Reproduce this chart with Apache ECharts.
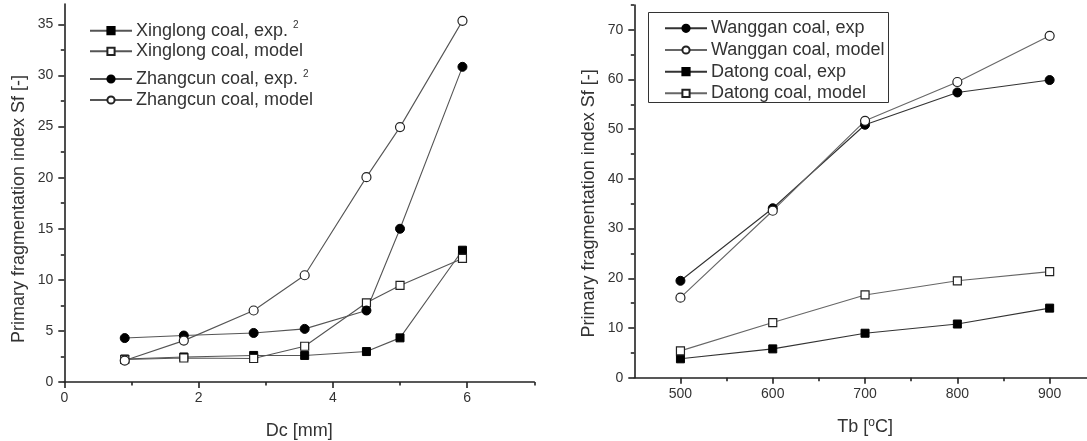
<!DOCTYPE html>
<html>
<head>
<meta charset="utf-8">
<title>Primary fragmentation index</title>
<script src="https://cdn.jsdelivr.net/npm/echarts@6/dist/echarts.min.js"></script>
<style>
  html, body { margin: 0; padding: 0; background: #fff; }
  #chart { width: 1087px; height: 441px; }
</style>
</head>
<body>
<div id="chart"></div>
<script>
// Left panel: fragmentation index vs. coal particle size Dc
const dcValues = [0.9, 1.78, 2.82, 3.58, 4.5, 5.0, 5.93];
const xinglongExp   = [2.25, 2.45, 2.6, 2.6, 2.98, 4.32, 12.9];
const xinglongModel = [2.2, 2.35, 2.3, 3.5, 7.75, 9.45, 12.1];
const zhangcunExp   = [4.3, 4.55, 4.8, 5.2, 7.0, 15.0, 30.85];
const zhangcunModel = [2.1, 4.05, 7.0, 10.45, 20.05, 24.95, 35.35];
const leftXMajor = [0, 2, 4, 6];
const leftXMinor = [1, 3, 5, 7];
const leftYMajor = [0, 5, 10, 15, 20, 25, 30, 35];
const leftYMinor = [2.5, 7.5, 12.5, 17.5, 22.5, 27.5, 32.5];

// Right panel: fragmentation index vs. bed temperature Tb
const tbValues = [500, 600, 700, 800, 900];
const wangganExp   = [19.5, 34.1, 50.9, 57.4, 59.9];
const wangganModel = [16.1, 33.6, 51.7, 59.5, 68.8];
const datongExp    = [3.8, 5.8, 8.95, 10.8, 14.0];
const datongModel  = [5.4, 11.1, 16.65, 19.5, 21.35];
const rightXMajor = [500, 600, 700, 800, 900];
const rightXMinor = [550, 650, 750, 850];
const rightYMajor = [0, 10, 20, 30, 40, 50, 60, 70];
const rightYMinor = [5, 15, 25, 35, 45, 55, 65, 75];

const FONT = '"Liberation Sans", Arial, Helvetica, sans-serif';
const TEXT = '#333';
const AXIS = '#222';

function pairs(xs, ys) { return xs.map((x, i) => [x, ys[i]]); }

function xAxes(grid, min, max, major, minor, name, gap) {
  return [
    {
      type: 'value', gridIndex: grid, position: 'bottom', min: min, max: max,
      name: name, nameLocation: 'middle', nameGap: gap,
      nameTextStyle: { fontFamily: FONT, fontSize: 18, color: TEXT,
        rich: { sup: { fontFamily: FONT, fontSize: 12, color: TEXT, verticalAlign: 'top', padding: [0, 0, 8, 0] } } },
      axisLine: { show: true, lineStyle: { color: AXIS, width: 1.6 } },
      axisTick: { show: true, inside: false, length: 6, customValues: major, lineStyle: { color: AXIS, width: 1.6 } },
      axisLabel: { show: true, customValues: major, margin: 9, fontFamily: FONT, fontSize: 14, color: TEXT },
      splitLine: { show: false }
    },
    {
      type: 'value', gridIndex: grid, position: 'bottom', min: min, max: max,
      axisLine: { show: false },
      axisTick: { show: true, inside: false, length: 3.5, customValues: minor, lineStyle: { color: AXIS, width: 1.6 } },
      axisLabel: { show: false },
      splitLine: { show: false }
    }
  ];
}

// shift moves the rotated title toward the bottom of the axis
function yAxes(grid, min, max, major, minor, shift) {
  return [
    {
      type: 'value', gridIndex: grid, position: 'left', min: min, max: max,
      name: 'Primary fragmentation index Sf [-]', nameLocation: 'middle', nameGap: 36,
      nameTextStyle: { fontFamily: FONT, fontSize: 18, color: TEXT, padding: [0, 2 * shift, 0, 0] },
      axisLine: { show: true, lineStyle: { color: AXIS, width: 1.6 } },
      axisTick: { show: true, inside: false, length: 6, customValues: major, lineStyle: { color: AXIS, width: 1.6 } },
      axisLabel: { show: true, customValues: major, margin: 11, fontFamily: FONT, fontSize: 14, color: TEXT },
      splitLine: { show: false }
    },
    {
      type: 'value', gridIndex: grid, position: 'left', min: min, max: max,
      axisLine: { show: false },
      axisTick: { show: true, inside: false, length: 3.5, customValues: minor, lineStyle: { color: AXIS, width: 1.6 } },
      axisLabel: { show: false },
      splitLine: { show: false }
    }
  ];
}

function lineSeries(name, xi, yi, data, symbol, filled, lineColor, size) {
  return {
    name: name, type: 'line', xAxisIndex: xi, yAxisIndex: yi, data: data,
    symbol: symbol, symbolSize: size, showSymbol: true, animation: false,
    lineStyle: { color: lineColor, width: 1.1 },
    itemStyle: filled
      ? { color: '#000', borderColor: '#000', borderWidth: 1 }
      : { color: '#fff', borderColor: '#222', borderWidth: 1.2 },
    emphasis: { disabled: true }
  };
}

// one legend per row so each entry sits on its own line
function legendRow(name, left, centerY, fmt) {
  return {
    data: [name], left: left, top: centerY - 10, padding: 0,
    itemWidth: 42, itemHeight: 9, itemGap: 0, selectedMode: false,
    formatter: fmt || '{name}',
    textStyle: { fontFamily: FONT, fontSize: 18, color: TEXT, lineHeight: 20, padding: [0, 0, 0, -1],
      rich: { sup: { fontFamily: FONT, fontSize: 10, color: TEXT, verticalAlign: 'top', lineHeight: 20, padding: [0, 0, 9, 0] } } }
  };
}

const L1 = 'Xinglong coal, exp.';
const L2 = 'Xinglong coal, model';
const L3 = 'Zhangcun coal, exp.';
const L4 = 'Zhangcun coal, model';
const R1 = 'Wanggan coal, exp';
const R2 = 'Wanggan coal, model';
const R3 = 'Datong coal, exp';
const R4 = 'Datong coal, model';

const leftLine = '#555';

const option = {
  backgroundColor: '#fff',
  animation: false,
  grid: [
    { left: 64.3, right: 552.7, top: 4, bottom: 59, outerBoundsMode: 'none', containLabel: false },
    { left: 634.3, right: -8.8, top: 5, bottom: 63.3, outerBoundsMode: 'none', containLabel: false }
  ],
  xAxis: [
    ...xAxes(0, 0, 7, leftXMajor, leftXMinor, 'Dc [mm]', 40),
    ...xAxes(1, 450, 950, rightXMajor, rightXMinor, 'Tb [{sup|o}C]', 39)
  ],
  yAxis: [
    ...yAxes(0, 0, 37, leftYMajor, leftYMinor, 16),
    ...yAxes(1, 0, 75, rightYMajor, rightYMinor, 12)
  ],
  legend: [
    legendRow(L1, 89, 30.7, '{name} {sup|2}'),
    legendRow(L2, 89, 51.3),
    legendRow(L3, 89, 79, '{name} {sup|2}'),
    legendRow(L4, 89, 100),
    legendRow(R1, 664, 28.3),
    legendRow(R2, 664, 50),
    legendRow(R3, 664, 71.7),
    legendRow(R4, 664, 93.3)
  ],
  graphic: [
    { type: 'rect', shape: { x: 648.5, y: 12.5, width: 240, height: 90 },
      style: { fill: 'none', stroke: '#333', lineWidth: 1 }, silent: true }
  ],
  series: [
    lineSeries(L1, 0, 0, pairs(dcValues, xinglongExp), 'rect', true, leftLine, 8),
    lineSeries(L2, 0, 0, pairs(dcValues, xinglongModel), 'rect', false, leftLine, 8),
    lineSeries(L3, 0, 0, pairs(dcValues, zhangcunExp), 'circle', true, leftLine, 9),
    lineSeries(L4, 0, 0, pairs(dcValues, zhangcunModel), 'circle', false, leftLine, 9),
    lineSeries(R1, 2, 2, pairs(tbValues, wangganExp), 'circle', true, '#333', 9),
    lineSeries(R2, 2, 2, pairs(tbValues, wangganModel), 'circle', false, '#666', 9),
    lineSeries(R3, 2, 2, pairs(tbValues, datongExp), 'rect', true, '#333', 8),
    lineSeries(R4, 2, 2, pairs(tbValues, datongModel), 'rect', false, '#666', 8)
  ]
};

const chart = echarts.init(document.getElementById('chart'), null, { renderer: 'canvas' });
chart.setOption(option);
</script>
</body>
</html>
